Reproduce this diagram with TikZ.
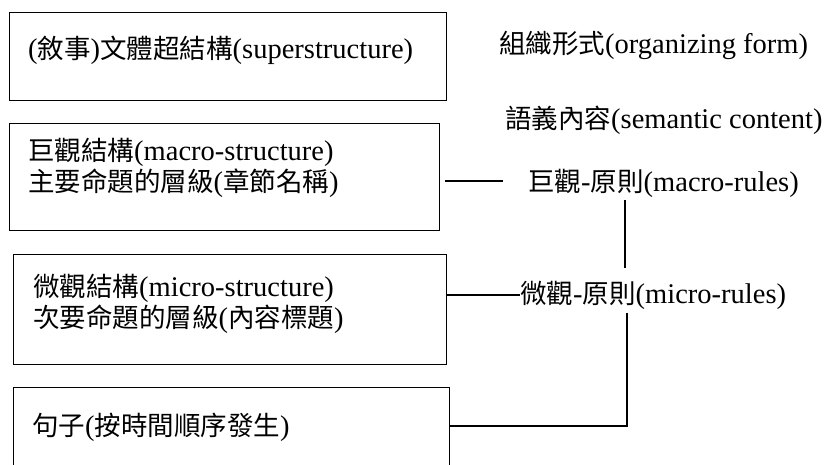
\documentclass[tikz,border=0pt]{standalone}
\usepackage{fontspec}
\setmainfont{Liberation Serif}
\newfontfamily\cjk{Noto Sans CJK TC}[Scale=0.93]
\newcommand\C[1]{{\cjk #1}}
\tikzset{
  every node/.style={font=\fontsize{28.5}{31.5}\selectfont, inner sep=0pt},
  boxnode/.style={draw, line width=1.2pt, anchor=north west, inner sep=0pt},
  label/.style={anchor=west, align=left},
  conn/.style={line width=1.4pt},
}
\begin{document}
\begin{tikzpicture}[x=1pt,y=-1pt]
\fill[white] (0,0) rectangle (831,465);
\useasboundingbox (0,0) rectangle (831,465);
\clip (0,0) rectangle (831,465);
% boxes
\node[boxnode, minimum width=437pt, minimum height=88pt]  (b1) at (9,12) {};
\node[boxnode, minimum width=430pt, minimum height=107pt] (b2) at (9,123) {};
\node[boxnode, minimum width=433pt, minimum height=110pt] (b3) at (13,254) {};
\node[boxnode, minimum width=436pt, minimum height=130pt] (b4) at (13,387) {};
% box texts
\node[label] (t1) at (28,50) {(\C{敘事})\C{文體超結構}(superstructure)};
\node[label] (t2) at (28,168) {\C{巨觀結構}(macro-structure)\\\C{主要命題的層級}(\C{章節名稱})};
\node[label] (t3) at (33,304) {\C{微觀結構}(micro-structure)\\\C{次要命題的層級}(\C{內容標題})};
\node[label] (t4) at (32,427) {\C{句子}(\C{按時間順序發生})};
% right texts
\node[label] (org) at (499,45) {\C{組織形式}(organizing form)};
\node[label] (sem) at (505,120) {\C{語義內容}(semantic content)};
\node[label] (macro) at (528,183) {\C{巨觀}-\C{原則}(macro-rules)};
\node[label] (micro) at (520,295) {\C{微觀}-\C{原則}(micro-rules)};
% connectors
\coordinate (ma) at (445,181);
\coordinate (mb) at (503,181);
\draw[conn] (ma) -- (mb);
\coordinate (v1a) at (625,200);
\coordinate (v1b) at (625,268);
\draw[conn] (v1a) -- (v1b);
\draw[conn] (b3.east |- micro.west) -- (micro.west);
\coordinate (v2a) at (627,313);
\coordinate (v2b) at (449,426);
\draw[conn] (v2a) |- (v2b);
\end{tikzpicture}
\end{document}
